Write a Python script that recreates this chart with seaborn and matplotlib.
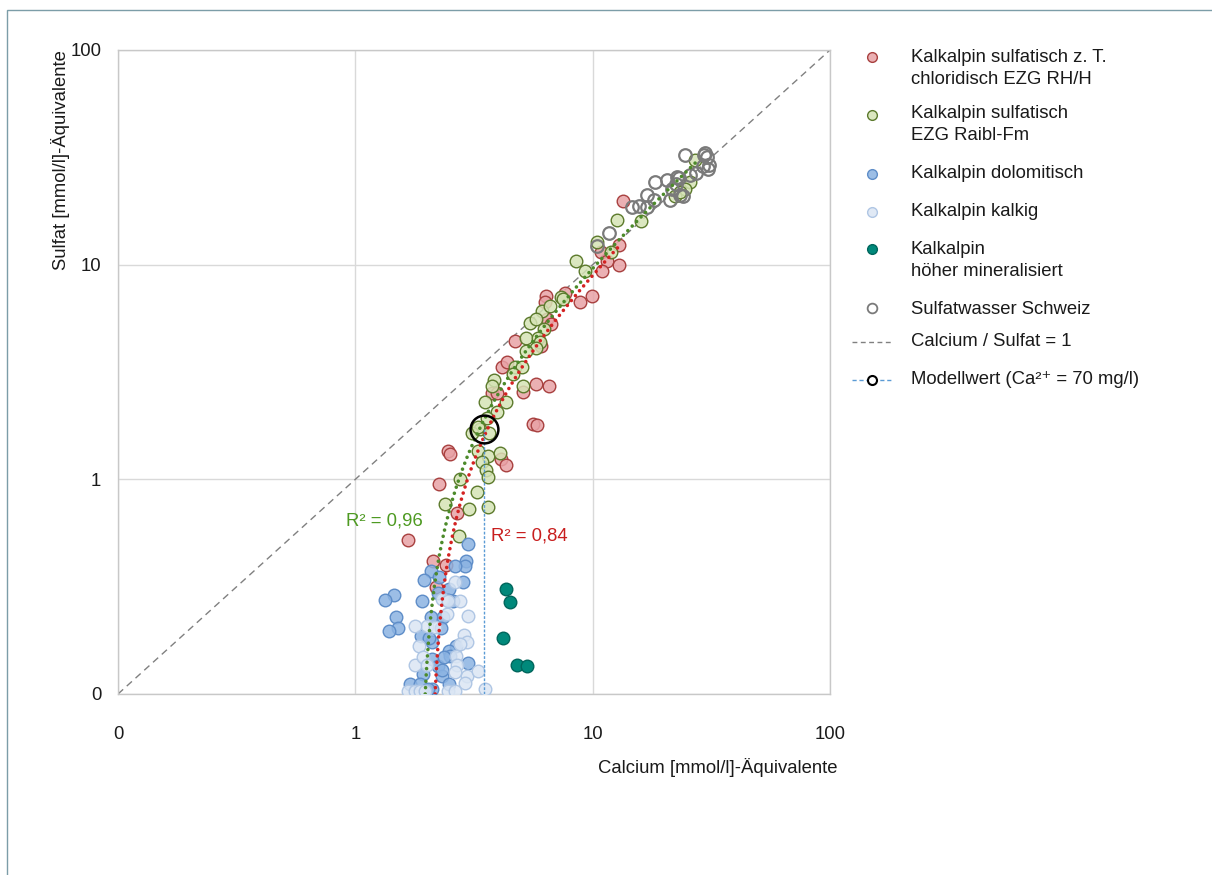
import numpy as np
import pandas as pd
import matplotlib
matplotlib.use("Agg")
import matplotlib.pyplot as plt
from matplotlib.lines import Line2D
from matplotlib.patches import Rectangle
import seaborn as sns

# ---------------- data (mmol/l equivalents) ----------------
red_ca = [1.67, 2.26, 2.46, 2.51, 2.69, 2.13, 2.42, 2.19, 4.12, 4.32, 5.61, 5.84, 5.10, 5.78,
          6.56, 3.77, 3.96, 4.16, 4.36, 4.72, 6.07, 6.43, 6.69, 6.37, 6.31, 7.66, 8.86, 9.95,
          10.8, 11.5, 11.0, 12.9, 12.9, 13.4]
red_so4 = [0.52, 0.95, 1.35, 1.31, 0.70, 0.415, 0.40, 0.314, 1.24, 1.16, 1.82, 1.80, 2.54, 2.77,
           2.71, 2.52, 2.52, 3.32, 3.51, 4.39, 4.16, 5.56, 5.27, 7.11, 6.67, 7.35, 6.67, 7.11,
           11.4, 10.4, 9.31, 12.4, 9.93, 19.7]

green_ca = [8.53, 9.29, 7.37, 7.51, 6.13, 6.62, 5.46, 5.78, 6.25, 5.25, 5.90, 6.01, 5.78, 5.25,
            4.72, 5.05, 4.63, 5.10, 3.85, 3.77, 3.53, 4.32, 3.96, 3.59, 3.36, 3.67, 3.11, 3.30,
            3.30, 3.63, 4.08, 3.42, 3.56, 3.63, 2.77, 3.26, 2.39, 3.02, 3.63, 2.74, 12.7, 16.0,
            10.4, 12.0, 27.0, 25.7, 24.5, 22.3, 23.4]
green_so4 = [10.4, 9.31, 7.04, 6.89, 6.06, 6.40, 5.33, 5.56, 5.00, 4.54, 4.54, 4.35, 4.07, 3.95,
             3.32, 3.32, 3.08, 2.71, 2.89, 2.71, 2.28, 2.28, 2.07, 1.94, 1.71, 1.64, 1.65, 1.75,
             1.35, 1.29, 1.32, 1.20, 1.11, 1.03, 1.00, 0.87, 0.765, 0.725, 0.74, 0.543, 16.1, 15.9,
             12.8, 11.5, 30.6, 24.2, 22.4, 20.8, 21.9]

dolo_ca = [2.99, 2.93, 2.90, 2.64, 2.09, 1.95, 2.26, 2.49, 2.85, 1.45, 1.34, 1.91, 2.59, 1.49,
           1.52, 1.39, 2.35, 2.09, 1.90, 2.11, 2.30, 2.66, 2.49, 2.51, 2.11, 2.24, 2.99, 2.32,
           1.93, 1.70, 1.88, 2.11, 2.49, 2.03, 2.24, 2.46, 2.05, 2.37, 2.32]
dolo_so4 = [0.498, 0.415, 0.393, 0.393, 0.373, 0.339, 0.350, 0.307, 0.331, 0.288, 0.273, 0.270,
            0.270, 0.228, 0.202, 0.196, 0.228, 0.228, 0.186, 0.174, 0.202, 0.167, 0.158, 0.150,
            0.145, 0.135, 0.139, 0.121, 0.124, 0.111, 0.111, 0.105, 0.111, 0.105, 0.294, 0.273,
            0.182, 0.149, 0.130]

kalk_ca = [2.64, 2.88, 2.96, 2.99, 2.44, 2.77, 2.32, 2.46, 2.01, 2.17, 1.86, 1.79, 1.93, 2.01,
           2.66, 2.69, 2.96, 2.90, 3.30, 1.67, 1.79, 1.88, 1.97, 2.46, 2.64, 3.53, 2.77, 2.64, 1.79]
kalk_so4 = [0.331, 0.188, 0.174, 0.230, 0.235, 0.270, 0.276, 0.270, 0.207, 0.205, 0.167, 0.137,
            0.148, 0.137, 0.150, 0.137, 0.121, 0.113, 0.128, 0.103, 0.103, 0.103, 0.103, 0.103,
            0.103, 0.105, 0.171, 0.127, 0.207]

hoch_ca = [4.32, 4.49, 4.20, 4.81, 5.30]
hoch_so4 = [0.310, 0.267, 0.182, 0.136, 0.135]

ch_ca = [24.5, 29.8, 29.5, 30.3, 31.0, 29.2, 27.3, 25.7, 18.3, 20.6, 22.7, 23.1, 21.6, 23.4,
         24.0, 21.2, 17.0, 18.2, 14.7, 15.6, 17.0, 11.7, 10.4, 30.6, 22.5]
ch_so4 = [32.3, 33.0, 32.3, 31.6, 29.0, 28.7, 26.6, 26.3, 24.4, 24.7, 25.5, 25.2, 22.4, 21.2,
          20.8, 20.1, 21.2, 20.1, 18.5, 18.7, 18.5, 14.0, 12.2, 27.8, 23.7]

model_ca = 3.49     # 70 mg/l Ca2+
model_so4 = 1.71

# linear trend lines (Excel style, drawn on log axes)
green_slope, green_intercept, green_x_end = 1.183, -2.23, 27.5
red_slope, red_intercept, red_x_end = 1.125, -2.34, 13.1
green_r2_label = "R² = 0,96"
red_r2_label = "R² = 0,84"

tick_vals = [0.1, 1, 10, 100]
tick_labels = ["0", "1", "10", "100"]

legend_labels = [
    ["Kalkalpin sulfatisch z. T.", "chloridisch EZG RH/H"],
    ["Kalkalpin sulfatisch", "EZG Raibl-Fm"],
    ["Kalkalpin dolomitisch"],
    ["Kalkalpin kalkig"],
    ["Kalkalpin", "höher mineralisiert"],
    ["Sulfatwasser Schweiz"],
    ["Calcium / Sulfat = 1"],
    ["Modellwert (Ca²⁺ = 70 mg/l)"],
]

# ---------------- styling ----------------
sns.set_theme(style="white")
plt.rcParams["font.family"] = ["Liberation Sans", "DejaVu Sans"]
FS = 13.3
TXT = "#1a1a1a"

styles = {
    "red":   dict(face=(0.910, 0.635, 0.650, 0.85), edge="#A8403F", lw=1.0),
    "green": dict(face=(0.835, 0.890, 0.710, 0.85), edge="#5C7A2C", lw=1.0),
    "dolo":  dict(face=(0.545, 0.700, 0.885, 0.85), edge="#5E8DC8", lw=1.0),
    "kalk":  dict(face=(0.860, 0.900, 0.955, 0.85), edge="#AFC6E4", lw=1.0),
    "hoch":  dict(face=(0.000, 0.537, 0.482, 1.0), edge="#00665C", lw=1.0),
    "ch":    dict(face=(1, 1, 1, 0), edge="#7A7A7A", lw=1.6),
}

W, H = 1212, 875
fig = plt.figure(figsize=(W / 100, H / 100), dpi=100)
fig.patch.set_facecolor("white")

# outer frame (only top/left visible)
fig.add_artist(Rectangle((7 / W, -0.5), 2.0, 1 - 10 / H + 0.5, transform=fig.transFigure,
                         fill=False, edgecolor="#7C9DA8", lw=1.0))

ax = fig.add_axes([118 / W, 1 - 694 / H, 712 / W, 644 / H])
ax.set_xscale("log")
ax.set_yscale("log")
ax.set_xlim(0.1, 100)
ax.set_ylim(0.1, 100)

groups = [
    ("red", red_ca, red_so4),
    ("green", green_ca, green_so4),
    ("dolo", dolo_ca, dolo_so4),
    ("kalk", kalk_ca, kalk_so4),
    ("hoch", hoch_ca, hoch_so4),
    ("ch", ch_ca, ch_so4),
]
for key, xs, ys in groups:
    st = styles[key]
    df = pd.DataFrame({"Ca": xs, "SO4": ys})
    sns.scatterplot(data=df, x="Ca", y="SO4", ax=ax, s=82, color=st["edge"],
                    edgecolor=st["edge"], linewidth=st["lw"], legend=False, zorder=3)
    coll = ax.collections[-1]
    coll.set_facecolor(st["face"])
    coll.set_edgecolor(st["edge"])

# 1:1 line
ax.plot(tick_vals, tick_vals, color="#808080", lw=1.0, ls=(0, (5, 3.5)), zorder=2)

# trend lines
for slope, icpt, xend, col in [(green_slope, green_intercept, green_x_end, "#4C8A2A"),
                               (red_slope, red_intercept, red_x_end, "#D42222")]:
    xstart = (tick_vals[0] - icpt) / slope
    xx = np.geomspace(xstart, xend, 300)
    ax.plot(xx, slope * xx + icpt, color=col, lw=2.6, ls=(0, (0.01, 1.75)),
            dash_capstyle="round", zorder=4)

# model value
ax.plot([model_ca, model_ca], [tick_vals[0], model_so4], color="#5B9BD5", lw=1.0,
        ls=(0, (2, 1.2)), zorder=4)
ax.plot([model_ca], [model_so4], marker="o", ms=20, mfc="none", mec="black", mew=1.8, zorder=5)

# R² labels
ax.text(1.32, 0.637, green_r2_label, color="#4E9A22", fontsize=FS, ha="center", va="center")
ax.text(5.4, 0.543, red_r2_label, color="#C81E1E", fontsize=FS, ha="center", va="center")

# axes cosmetics
ax.minorticks_off()
ax.set_xticks(tick_vals)
ax.set_xticklabels(tick_labels)
ax.set_yticks(tick_vals)
ax.set_yticklabels(tick_labels)
ax.tick_params(axis="x", length=0, pad=23, labelsize=FS, labelcolor=TXT)
ax.tick_params(axis="y", length=0, pad=12, labelsize=FS, labelcolor=TXT)
ax.grid(True, which="major", color="#D9D9D9", lw=1.0)
ax.set_axisbelow(True)
for sp in ax.spines.values():
    sp.set_color("#C8C8C8")
    sp.set_linewidth(1.0)

ax.set_xlabel("Calcium [mmol/l]-Äquivalente", fontsize=FS, color=TXT, loc="right")
ax.xaxis.set_label_coords(1.011, -0.099)
ax.set_ylabel("Sulfat [mmol/l]-Äquivalente", fontsize=FS, color=TXT, loc="top")
ax.yaxis.set_label_coords(-0.068, 1.0)

# ---------------- manual legend ----------------
def fx(px):
    return px / W


def fy(py):
    return 1 - py / H


mk_x = 872
tx_x = 911
entries_y = [(57, [58, 79]), (115, [113, 135]), (174, [173]), (212, [211]),
             (249, [249, 272]), (308, [309]), (342, [342]), (380, [380])]
keys = ["red", "green", "dolo", "kalk", "hoch", "ch"]
for i, (my, lines_y) in enumerate(entries_y):
    if i < 6:
        st = styles[keys[i]]
        fig.add_artist(Line2D([fx(mk_x)], [fy(my)], transform=fig.transFigure, marker="o",
                              ms=7, mfc=st["face"], mec=st["edge"], mew=1.0 if i != 5 else 1.3,
                              ls="none"))
    elif i == 6:
        fig.add_artist(Line2D([fx(852), fx(893)], [fy(my), fy(my)], transform=fig.transFigure,
                              color="#808080", lw=1.0, ls=(0, (3.5, 2.5))))
    else:
        fig.add_artist(Line2D([fx(852), fx(893)], [fy(my), fy(my)], transform=fig.transFigure,
                              color="#5B9BD5", lw=1.0, ls=(0, (3, 2))))
        fig.add_artist(Line2D([fx(mk_x)], [fy(my)], transform=fig.transFigure, marker="o",
                              ms=6.5, mfc="white", mec="black", mew=1.5, ls="none"))
    for line, ly in zip(legend_labels[i], lines_y):
        fig.text(fx(tx_x), fy(ly), line, fontsize=FS, color=TXT, ha="left", va="center")

fig.savefig("out.png", dpi=100)
